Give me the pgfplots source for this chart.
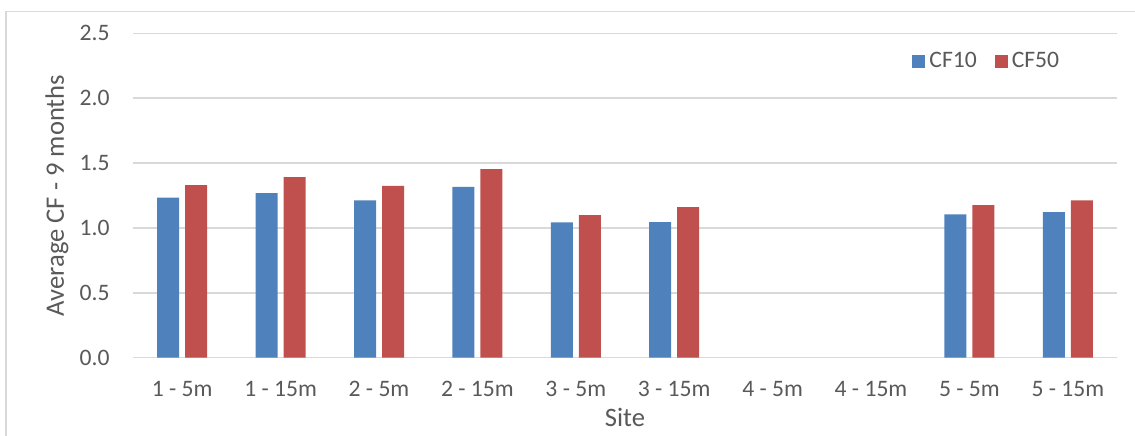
\documentclass[border=0pt]{standalone}
\usepackage{pgfplots}
\pgfplotsset{compat=1.18}
\usepackage{fontspec}
\setmainfont{Carlito}
\definecolor{cfblue}{HTML}{4F81BD}
\definecolor{cfred}{HTML}{C0504D}
\definecolor{gridgray}{HTML}{D9D9D9}
\definecolor{txtgray}{HTML}{595959}
\begin{document}
\begin{tikzpicture}
\path[use as bounding box] (0,0) rectangle (567.5pt,217.5pt);
\draw[gridgray, line width=0.75pt] (3pt,-2pt) -- (3pt,211.75pt) -- (570pt,211.75pt);
\begin{axis}[
  at={(66.5pt,38.65pt)}, anchor=south west,
  scale only axis, width=492pt, height=162.2pt,
  ybar, ybar=3pt, bar width=11pt,
  xmin=-0.5, xmax=9.5, ymin=0, ymax=2.5,
  xtick={0,...,9},
  xticklabels={1 - 5m, 1 - 15m, 2 - 5m, 2 - 15m, 3 - 5m, 3 - 15m, 4 - 5m, 4 - 15m, 5 - 5m, 5 - 15m},
  ytick={0,0.5,...,2.5},
  yticklabel style={/pgf/number format/.cd, fixed, fixed zerofill, precision=1, assume math mode=true},
  tick label style={font=\fontsize{11.8}{14}\selectfont, text=txtgray, inner sep=0pt},
  xticklabel style={anchor=base},
  xticklabel shift=19.2pt,
  yticklabel shift=11.5pt,
  major tick length=0pt,
  axis line style={draw=none},
  ymajorgrids, grid style={gridgray, line width=0.75pt},
  ylabel={Average CF - 9 months},
  xlabel={Site},
  every axis y label/.style={at={(axis description cs:-0.0772,0.5)}, rotate=90, anchor=center,
    font=\fontsize{13.3}{16}\selectfont, text=txtgray, inner sep=0pt},
  every axis x label/.style={at={(axis description cs:0.5,-0.213)}, anchor=base,
    font=\fontsize{13.3}{16}\selectfont, text=txtgray, inner sep=0pt},
  legend style={draw=none, fill=none, at={(0.7917,0.9146)}, anchor=west, legend columns=2,
    font=\fontsize{11.8}{14}\selectfont, text=txtgray, inner sep=0pt,
    /tikz/every even column/.append style={column sep=7pt},
    nodes={inner sep=2pt}},
  legend image code/.code={\fill[#1] (0pt,-3.25pt) rectangle (6.5pt,3.25pt);},
  clip=false,
]
\addplot[fill=cfblue, draw=none] coordinates {(0,1.233) (1,1.269) (2,1.213) (3,1.317) (4,1.043) (5,1.045) (8,1.105) (9,1.122)};
\addplot[fill=cfred, draw=none] coordinates {(0,1.330) (1,1.392) (2,1.325) (3,1.454) (4,1.099) (5,1.161) (8,1.176) (9,1.213)};
\legend{CF10, CF50}
\end{axis}
\end{tikzpicture}
\end{document}
